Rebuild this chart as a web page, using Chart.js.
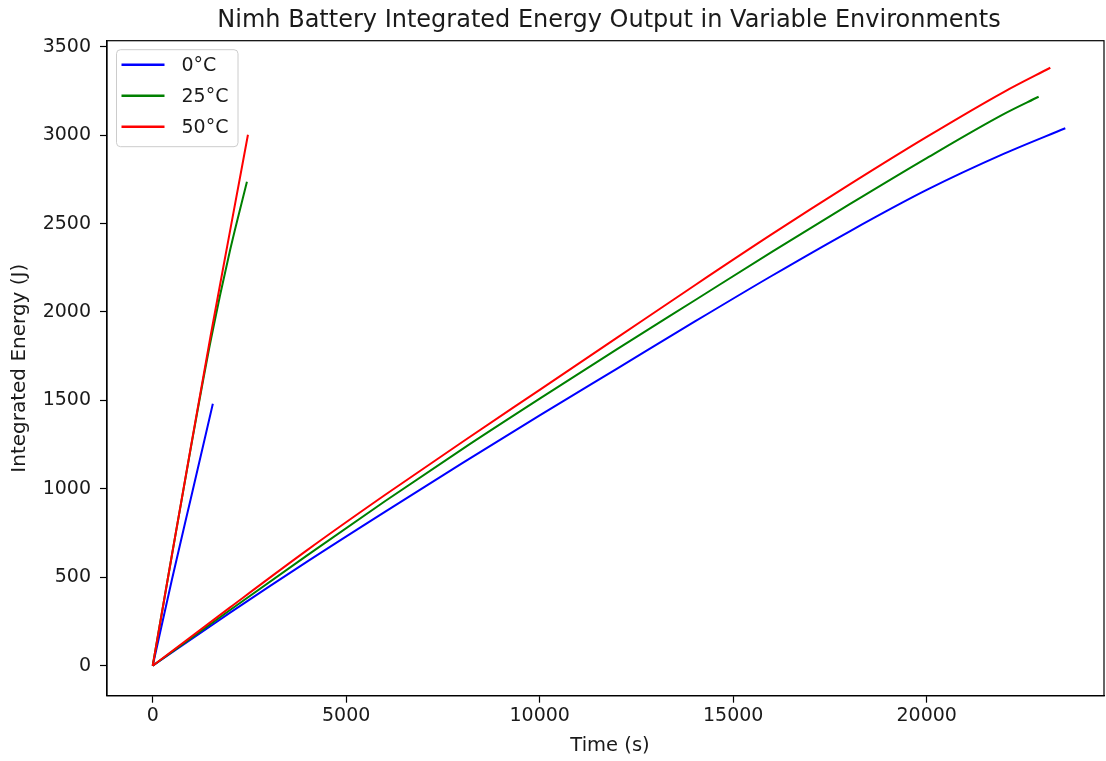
<!DOCTYPE html>
<html>
<head>
<meta charset="utf-8">
<script src="https://cdn.jsdelivr.net/npm/chart.js@4/dist/chart.umd.min.js"></script>
<style>
  html, body { margin: 0; padding: 0; background: #fff; overflow: hidden; }
  #wrap { width: 1106px; height: 761px; }
</style>
</head>
<body>
<div id="wrap"><canvas id="energy-chart" width="1106" height="761"></canvas></div>
<script>
// Nimh battery energy chart

const temperatures = ['0°C', '25°C', '50°C'];

// short, high-rate runs
const shortTime0 = [0, 500, 1000, 1554];
const shortEnergy0 = [0, 490, 960, 1481];
const shortTime25 = [0, 500, 1000, 1500, 2000, 2435];
const shortEnergy25 = [0, 630, 1250, 1840, 2350, 2736];
const shortTime50 = [0, 500, 1000, 1500, 2000, 2461];
const shortEnergy50 = [0, 630, 1255, 1870, 2460, 3002];

// long, low-rate runs
const longTime0 = [0, 2000, 4000, 6000, 8000, 10000, 12000, 14000, 16000, 18000, 20000, 22000, 23581];
const longEnergy0 = [0, 300, 590, 870, 1145, 1415, 1680, 1945, 2205, 2455, 2690, 2895, 3039];
const longTime25 = [0, 2000, 4000, 6000, 8000, 10000, 12000, 14000, 16000, 18000, 20000, 22000, 22892];
const longEnergy25 = [0, 315, 625, 930, 1225, 1510, 1790, 2065, 2340, 2608, 2870, 3120, 3217];
const longTime50 = [0, 2000, 4000, 6000, 8000, 10000, 12000, 14000, 16000, 18000, 20000, 22000, 23194];
const longEnergy50 = [0, 330, 655, 965, 1265, 1560, 1855, 2150, 2440, 2720, 2990, 3245, 3381];

const xTicks = [0, 5000, 10000, 15000, 20000];
const yTicks = [0, 500, 1000, 1500, 2000, 2500, 3000, 3500];

const colors = ['#0000ff', '#008000', '#ff0000'];
const runs = [
    [shortTime0, shortEnergy0, longTime0, longEnergy0],
    [shortTime25, shortEnergy25, longTime25, longEnergy25],
    [shortTime50, shortEnergy50, longTime50, longEnergy50]
];

const toPoints = (xs, ys) => xs.map((x, i) => ({ x: x, y: ys[i] }));

const datasets = [];
runs.forEach((r, i) => {
    [[r[0], r[1]], [r[2], r[3]]].forEach(pair => {
        datasets.push({
            label: temperatures[i],
            data: toPoints(pair[0], pair[1]),
            borderColor: colors[i],
            borderWidth: 2,
            pointRadius: 0,
            cubicInterpolationMode: 'monotone',
            fill: false,
            order: 3 - i
        });
    });
});

const font = "'DejaVu Sans', sans-serif";
const textColor = '#1a1a1a';

// title, frame, x label and legend drawn like matplotlib
const framePlugin = {
    id: 'frame',
    afterDraw(chart) {
        const ctx = chart.ctx;
        const a = chart.chartArea;
        ctx.save();
        ctx.strokeStyle = '#000';
        ctx.lineWidth = 1.2;
        ctx.strokeRect(a.left, a.top, a.right - a.left, a.bottom - a.top);

        ctx.fillStyle = textColor;
        ctx.font = '24px ' + font;
        ctx.textAlign = 'center';
        ctx.textBaseline = 'alphabetic';
        ctx.fillText('Nimh Battery Integrated Energy Output in Variable Environments', 609, 27);

        ctx.font = '19.5px ' + font;
        ctx.textBaseline = 'middle';
        ctx.fillText('Time (s)', 610, 746);

        // legend box
        const bx = a.left + 9.5, by = a.top + 9, bw = 121.5, bh = 97, rad = 4;
        ctx.beginPath();
        ctx.moveTo(bx + rad, by);
        ctx.arcTo(bx + bw, by, bx + bw, by + bh, rad);
        ctx.arcTo(bx + bw, by + bh, bx, by + bh, rad);
        ctx.arcTo(bx, by + bh, bx, by, rad);
        ctx.arcTo(bx, by, bx + bw, by, rad);
        ctx.closePath();
        ctx.fillStyle = 'rgba(255,255,255,0.8)';
        ctx.fill();
        ctx.strokeStyle = '#cccccc';
        ctx.lineWidth = 1;
        ctx.stroke();

        ctx.font = '19px ' + font;
        ctx.textAlign = 'left';
        ctx.textBaseline = 'middle';
        temperatures.forEach((t, i) => {
            const y = by + 15 + i * 31;
            ctx.strokeStyle = colors[i];
            ctx.lineWidth = 2.4;
            ctx.beginPath();
            ctx.moveTo(bx + 5, y);
            ctx.lineTo(bx + 48, y);
            ctx.stroke();
            ctx.fillStyle = textColor;
            ctx.fillText(t, bx + 65, y + 1);
        });
        ctx.restore();
    }
};

const plain = v => String(v);

const ctx = document.getElementById('energy-chart').getContext('2d');
new Chart(ctx, {
    type: 'line',
    data: { datasets: datasets },
    options: {
        responsive: false,
        animation: false,
        layout: { padding: { top: 40.7, right: 2, left: 0, bottom: 0 } },
        plugins: {
            legend: { display: false },
            title: { display: false },
            tooltip: { enabled: false }
        },
        scales: {
            x: {
                type: 'linear',
                min: -1181,
                max: 24581,
                afterBuildTicks: axis => { axis.ticks = xTicks.map(v => ({ value: v })); },
                afterFit: axis => { axis.height = 65.3; },
                grid: { display: true, drawOnChartArea: false, drawTicks: true, tickLength: 7, tickColor: '#000', tickWidth: 1.2 },
                border: { display: true, color: '#000', width: 1.2 },
                ticks: { padding: 2, color: textColor, font: { family: font, size: 19 }, maxRotation: 0, callback: plain },
                title: { display: false }
            },
            y: {
                type: 'linear',
                min: -169.6,
                max: 3534,
                afterBuildTicks: axis => { axis.ticks = yTicks.map(v => ({ value: v })); },
                afterFit: axis => { axis.width = 107; },
                grid: { display: true, drawOnChartArea: false, drawTicks: true, tickLength: 7, tickColor: '#000', tickWidth: 1.2 },
                border: { display: true, color: '#000', width: 1.2 },
                ticks: { padding: 9, color: textColor, font: { family: font, size: 19 }, callback: plain },
                title: { display: true, text: 'Integrated Energy (J)', color: textColor, font: { family: font, size: 20 }, padding: { top: 8, bottom: 0 } }
            }
        }
    },
    plugins: [framePlugin]
});
</script>
</body>
</html>
